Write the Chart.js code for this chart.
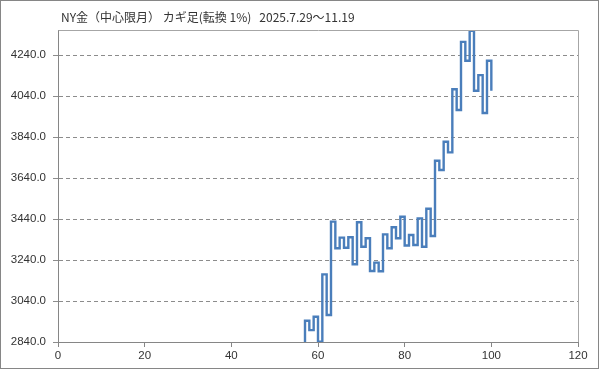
<!DOCTYPE html>
<html>
<head>
<meta charset="utf-8">
<script src="https://cdn.jsdelivr.net/npm/chart.js@4"></script>
<style>
  html, body { margin: 0; padding: 0; background: #fff; }
  #wrap { width: 599px; height: 369px; position: relative; }
</style>
</head>
<body>
<div id="wrap"><canvas id="kagi-chart" width="599" height="369"></canvas></div>
<script>
(function () {
    'use strict';

    const chartTitle = 'NY金（中心限月） カギ足(転換 1%)   2025.7.29～11.19';

    // kagi turning points: first one sits at x = startX, one step per point
    const startX = 57;
    const startValue = 2840;
    const kagiValues = [
        2944, 2898, 2963, 2842, 3170, 2972, 3427, 3297, 3349, 3300,
        3351, 3219, 3424, 3305, 3346, 3186, 3227, 3185, 3365, 3297,
        3400, 3346, 3451, 3311, 3362, 3313, 3443, 3305, 3490, 3357,
        3724, 3679, 3817, 3765, 4073, 3972, 4304, 4212, 4358, 4066,
        4142, 3957, 4212, 4066,
    ];

    const yTicks = [2840, 3040, 3240, 3440, 3640, 3840, 4040, 4240];
    const xTicks = [0, 20, 40, 60, 80, 100, 120];

    const lineColor = '#4a7ebb';
    const axisColor = '#868686';
    const textColor = '#333333';

    const points = [{ x: startX, y: startValue }];
    kagiValues.forEach((v, i) => points.push({ x: startX + i, y: v }));

    // outer border, plot frame, solid y axis line and the title
    const frame = {
        id: 'frame',
        afterDraw(chart) {
            const { ctx, chartArea: a } = chart;
            const l = Math.round(a.left) + 0.5;
            const t = Math.round(a.top) + 0.5;
            const r = Math.round(a.right) + 0.5;
            ctx.save();
            ctx.lineWidth = 1;
            ctx.strokeStyle = axisColor;
            ctx.strokeRect(0.5, 0.5, chart.width - 1, chart.height - 1);
            ctx.beginPath();
            ctx.moveTo(l, t);
            ctx.lineTo(l, a.bottom);
            ctx.stroke();
            ctx.strokeStyle = '#a6a6a6';
            ctx.beginPath();
            ctx.moveTo(l, t);
            ctx.lineTo(r, t);
            ctx.lineTo(r, a.bottom);
            ctx.stroke();
            ctx.fillStyle = textColor;
            ctx.font = '12px "Noto Sans CJK JP"';
            ctx.fillText(chartTitle, 61, 22);
            ctx.restore();
        },
    };

    new Chart(document.getElementById('kagi-chart'), {
        type: 'line',
        data: {
            datasets: [{
                data: points,
                borderColor: lineColor,
                borderWidth: 2.4,
                pointRadius: 0,
                stepped: 'before',
                fill: false,
            }],
        },
        options: {
            responsive: false,
            animation: false,
            layout: { padding: { left: 0, right: 21, top: 30, bottom: 0 } },
            plugins: {
                legend: { display: false },
                tooltip: { enabled: false },
            },
            scales: {
                x: {
                    type: 'linear',
                    min: 0,
                    max: 120,
                    afterBuildTicks: (s) => { s.ticks = xTicks.map((v) => ({ value: v })); },
                    afterFit: (s) => { s.height = 27; },
                    border: { color: axisColor, width: 1 },
                    grid: { drawOnChartArea: false, color: axisColor, tickLength: 5 },
                    ticks: {
                        color: textColor,
                        font: { family: 'Liberation Sans', size: 11.5 },
                        padding: 2,
                        maxRotation: 0,
                    },
                },
                y: {
                    min: 2840,
                    max: 4362,
                    afterBuildTicks: (s) => { s.ticks = yTicks.map((v) => ({ value: v })); },
                    afterFit: (s) => { s.width = 58; },
                    border: { color: axisColor, width: 1, dash: [4, 3] },
                    grid: {
                        color: '#8c8c8c',
                        tickBorderDash: [],
                        tickLength: 5,
                    },
                    ticks: {
                        color: textColor,
                        font: { family: 'Liberation Sans', size: 11.5 },
                        padding: 7,
                        callback: (v) => Number(v).toFixed(1),
                    },
                },
            },
        },
        plugins: [frame],
    });
})();
</script>
</body>
</html>
